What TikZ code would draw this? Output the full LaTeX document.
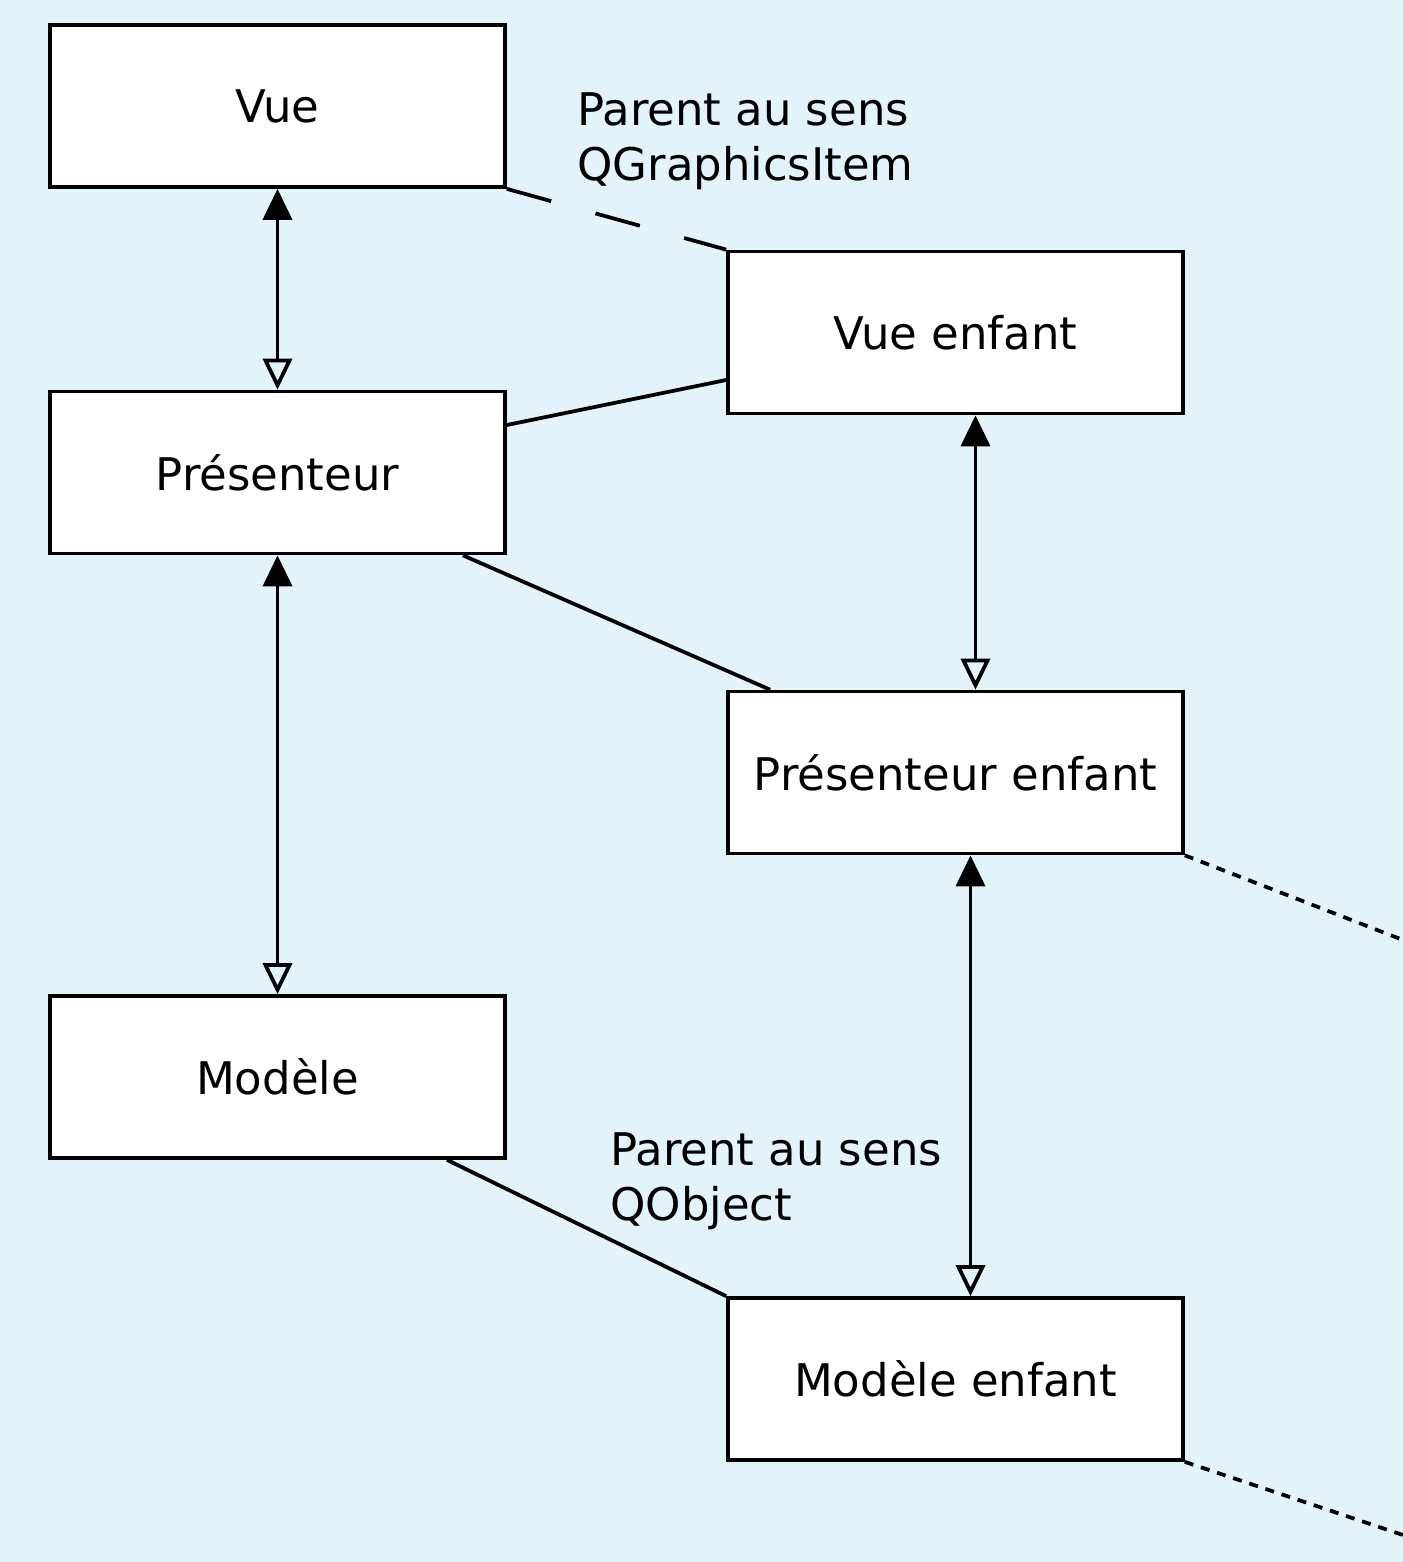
\documentclass[tikz,border=0pt]{standalone}
\usepackage{fontspec}
\setmainfont{DejaVu Sans}
\usetikzlibrary{arrows.meta}

\definecolor{bgblue}{RGB}{226,243,250}

\begin{document}
\begin{tikzpicture}[
    x=0.02cm, y=-0.02cm,
    % Define styles for consistent formatting
    classbox/.style={draw, fill=white, line width=0.075cm, minimum width=9.1cm,
        minimum height=3.24cm, font=\fontsize{25.6pt}{31pt}\selectfont},
    link/.style={line width=0.075cm},
    graphlink/.style={link, dash pattern=on 0.92cm off 0.92cm},
    morelink/.style={link, dash pattern=on 0.18cm off 0.16cm},
    twoway/.style={link, {Triangle[width=0.58cm,length=0.62cm]}-{Triangle[open,width=0.58cm,length=0.62cm]}},
    notelabel/.style={align=left, inner sep=0pt, font=\fontsize{25.6pt}{31.3pt}\selectfont}
]

% Background
\fill [bgblue] (0,0) rectangle (1403,1562);
\useasboundingbox (0,0) rectangle (1403,1562);

% Left column: parent triad
\node [classbox] (vue)    at (277.5,106)  {Vue};
\node [classbox] (pres)   at (277.5,472.5) {Présenteur};
\node [classbox] (modele) at (277.5,1077) {Modèle};

% Right column: child triad
\node [classbox] (vueenf)  at (955.5,332.5) {Vue enfant};
\node [classbox] (presenf) at (955.5,772.5) {Présenteur enfant};
\node [classbox] (modenf)  at (955.5,1379)  {Modèle enfant};

% Annotations
\node [notelabel, anchor=north west] (notegi) at (577,92)   {Parent au sens\\QGraphicsItem};
\node [notelabel, anchor=north west] (noteqo) at (610,1132) {Parent au sens\\QObject};

% Two-way links inside each triad
\draw [twoway] (vue.south) -- (pres.north);
\draw [twoway] (pres.south) -- (modele.north);
\draw [twoway] ([xshift=0.4cm]vueenf.south) -- ([xshift=0.4cm]presenf.north);
\draw [twoway] ([xshift=0.3cm]presenf.south) -- ([xshift=0.3cm]modenf.north);

% Parent links
\draw [graphlink] (vue.south east) -- (vueenf.north west);
\draw [link] ([yshift=0.95cm]pres.east) -- ([yshift=-0.95cm]vueenf.west);
\draw [link] ([xshift=3.71cm]pres.south) -- ([xshift=-3.71cm]presenf.north);
\draw [link] ([xshift=3.39cm]modele.south) -- (modenf.north west);

% Further children, off the edge
\coordinate (morepres) at (1403,940);
\coordinate (moremod)  at (1403,1535);
\draw [morelink] (presenf.south east) -- (morepres);
\draw [morelink] (modenf.south east) -- (moremod);

\end{tikzpicture}
\end{document}
